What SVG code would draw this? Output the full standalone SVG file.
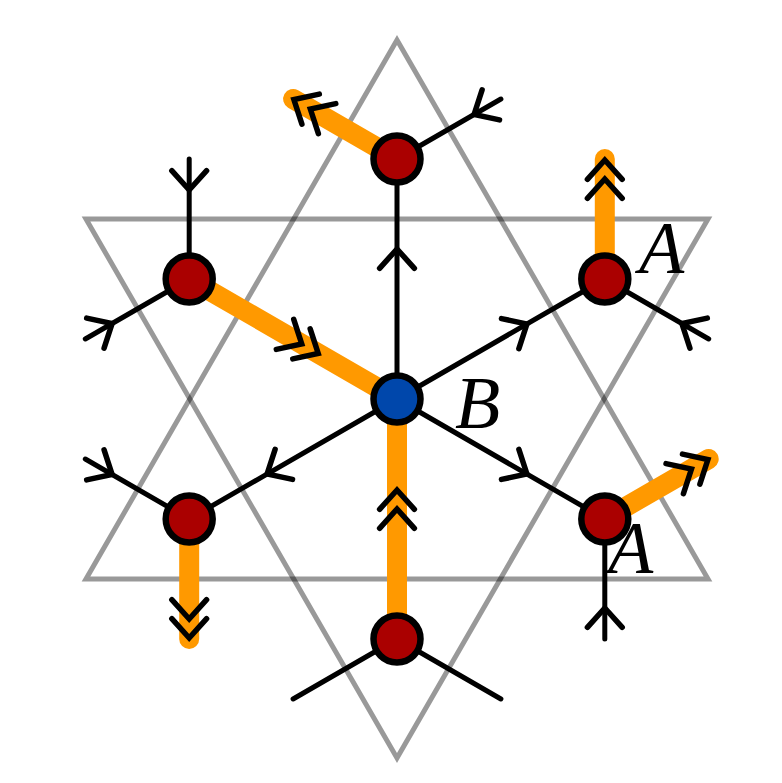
<svg xmlns="http://www.w3.org/2000/svg" width="782" height="783" viewBox="0 0 782 783">
<style>
.tri{fill:none;stroke:#000;stroke-opacity:0.4;stroke-width:5;stroke-linejoin:miter}
.blk{stroke:#000;stroke-width:5;stroke-linecap:round;fill:none}
.org{stroke:#ff9900;stroke-width:20;stroke-linecap:round;fill:none}
.chev{stroke:#000;stroke-width:5.5;stroke-linecap:round;stroke-linejoin:miter;fill:none}
.red{fill:#aa0000;stroke:#000;stroke-width:6.5}
.blue{fill:#0047ab;stroke:#000;stroke-width:6.5}
.lbl{font-family:"Liberation Serif","Times New Roman",serif;font-style:italic;font-size:74px;fill:#000}
</style>
<defs>
<path id="chev" class="chev" d="M-19.3,-17.4 L0,0 L-19.3,17.4"/>
<g id="dchev"><use href="#chev"/><use href="#chev" transform="translate(-19,0)"/></g>
</defs>
<g id="triangles">
<polygon class="tri" points="397,40 708,579 86,579"/>
<polygon class="tri" points="86,219 708,219 397,758"/>
</g>
<g id="connectors">
<line class="blk" x1="397" y1="399" x2="397" y2="159"/>
<line class="blk" x1="397" y1="399" x2="604.8" y2="279"/>
<line class="blk" x1="397" y1="399" x2="189.2" y2="519"/>
<line class="blk" x1="397" y1="399" x2="604.8" y2="519"/>
<line class="blk" x1="397" y1="159" x2="500.9" y2="99"/>
<line class="blk" x1="189.2" y1="279" x2="189.2" y2="159"/>
<line class="blk" x1="189.2" y1="279" x2="85.3" y2="339"/>
<line class="blk" x1="604.8" y1="279" x2="708.7" y2="339"/>
<line class="blk" x1="189.2" y1="519" x2="85.3" y2="459"/>
<line class="blk" x1="604.8" y1="519" x2="604.8" y2="639"/>
<line class="blk" x1="397" y1="639" x2="293.1" y2="699"/>
<line class="blk" x1="397" y1="639" x2="500.9" y2="699"/>
<line class="org" x1="189.2" y1="279" x2="397" y2="399"/>
<line class="org" x1="397" y1="639" x2="397" y2="399"/>
<line class="org" x1="397" y1="159" x2="293.1" y2="99"/>
<line class="org" x1="604.8" y1="279" x2="604.8" y2="159"/>
<line class="org" x1="189.2" y1="519" x2="189.2" y2="639"/>
<line class="org" x1="604.8" y1="519" x2="708.7" y2="459"/>
<use href="#chev" transform="translate(397,249) rotate(-90)"/>
<use href="#chev" transform="translate(526.9,324) rotate(-30)"/>
<use href="#chev" transform="translate(267.1,474) rotate(150)"/>
<use href="#chev" transform="translate(526.9,474) rotate(30)"/>
<use href="#chev" transform="translate(474.1,114.5) rotate(150)"/>
<use href="#chev" transform="translate(189.2,190) rotate(90)"/>
<use href="#chev" transform="translate(112.1,323.5) rotate(-30)"/>
<use href="#chev" transform="translate(681.9,323.5) rotate(-150)"/>
<use href="#chev" transform="translate(112.1,474.5) rotate(30)"/>
<use href="#chev" transform="translate(604.8,608) rotate(-90)"/>
<use href="#dchev" transform="translate(293.9,99.5) rotate(-150)"/>
<use href="#dchev" transform="translate(604.8,160) rotate(-90)"/>
<use href="#dchev" transform="translate(189.2,638) rotate(90)"/>
<use href="#dchev" transform="translate(707.9,459.5) rotate(-30)"/>
<use href="#dchev" transform="translate(318.2,353.5) rotate(30)"/>
<use href="#dchev" transform="translate(397,490) rotate(-90)"/>
</g>
<g id="node-top"><circle class="red" cx="397" cy="159" r="23.5"/></g>
<g id="node-upper-left"><circle class="red" cx="189.2" cy="279" r="23.5"/></g>
<g id="node-upper-right"><circle class="red" cx="604.8" cy="279" r="23.5"/></g>
<g id="node-lower-left"><circle class="red" cx="189.2" cy="519" r="23.5"/></g>
<g id="node-lower-right"><circle class="red" cx="604.8" cy="519" r="23.5"/></g>
<g id="node-bottom"><circle class="red" cx="397" cy="639" r="23.5"/></g>
<g id="node-B"><circle class="blue" cx="397" cy="399" r="23.5"/></g>
<g id="labels">
<text class="lbl" x="639" y="273">A</text>
<text class="lbl" x="608" y="573">A</text>
<text class="lbl" x="455" y="428">B</text>
</g>
</svg>
